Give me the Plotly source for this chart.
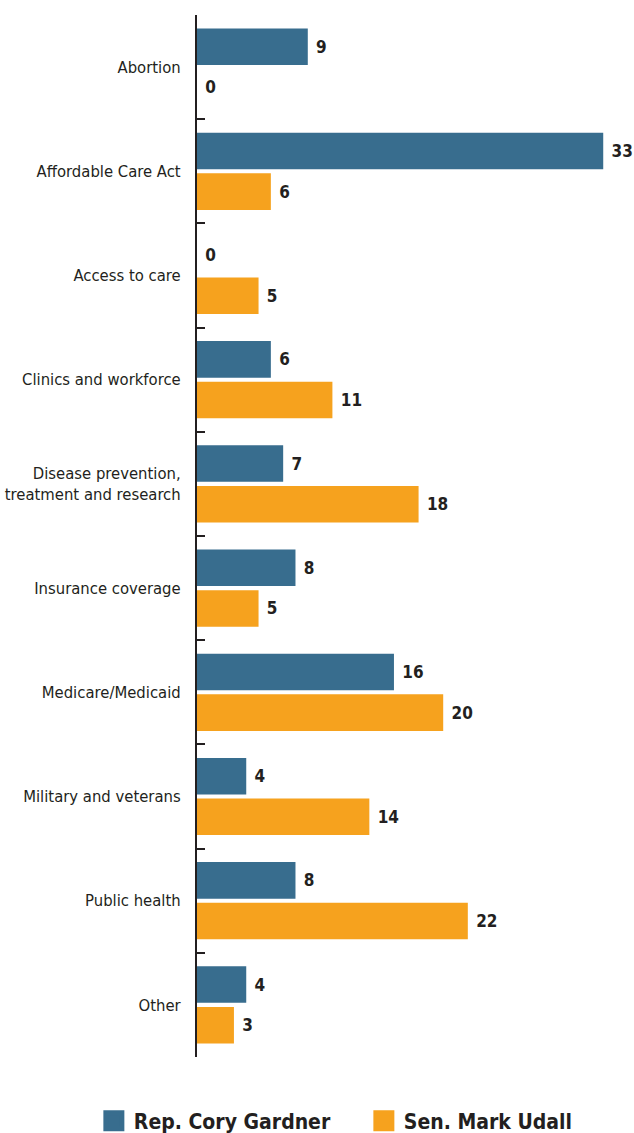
import plotly.graph_objects as go

categories = ["Abortion", "Affordable Care Act", "Access to care", "Clinics and workforce",
              "Disease prevention,<br>treatment and research", "Insurance coverage",
              "Medicare/Medicaid", "Military and veterans", "Public health", "Other"]
gardner = [9, 33, 0, 6, 7, 8, 16, 4, 8, 4]
udall = [0, 6, 5, 11, 18, 5, 20, 14, 22, 3]
series_names = ["Rep. Cory Gardner", "Sen. Mark Udall"]
colors = ["#386d8e", "#f6a21e"]

FONT = "DejaVu Sans Condensed, Liberation Sans Narrow, sans-serif"
DARK = "#231f20"

fig = go.Figure()
for name, vals, col in zip(series_names, [gardner, udall], colors):
    fig.add_trace(go.Bar(
        y=categories, x=vals, orientation="h", name=name,
        marker=dict(color=col, line=dict(width=0)),
        text=vals, texttemplate="\u00a0%{x}", textposition="outside",
        textfont=dict(family=FONT, size=17, color=DARK, weight="bold"),
        cliponaxis=False, showlegend=False,
    ))
    fig.add_trace(go.Scatter(
        x=[None], y=[None], mode="markers", name=name,
        marker=dict(symbol="square", size=16, color=col, line=dict(color=col, width=5)),
        showlegend=True,
    ))

fig.update_layout(
    width=634, height=1133,
    margin=dict(l=197, r=0, t=15, b=76, autoexpand=False),
    plot_bgcolor="white", paper_bgcolor="white",
    barmode="group", bargap=0.22, bargroupgap=0.1,
    font=dict(family=FONT, color=DARK),
    showlegend=True,
    legend=dict(orientation="h", x=-0.236, xanchor="left", y=-0.0614, yanchor="middle",
                font=dict(family=FONT, size=21, color=DARK, weight="bold"),
                itemsizing="trace", itemwidth=30, entrywidth=225,
                bgcolor="rgba(0,0,0,0)"),
    xaxis=dict(range=[0, 35.5], visible=False, showgrid=False, zeroline=False),
    yaxis=dict(autorange="reversed", showline=True, linecolor=DARK, linewidth=2,
               ticks="inside", tickson="boundaries", ticklen=8, tickwidth=2, tickcolor=DARK,
               showgrid=False, zeroline=False,
               tickfont=dict(family=FONT, size=16.5, color=DARK), ticklabelstandoff=11),
)

fig.write_html("out.html")
